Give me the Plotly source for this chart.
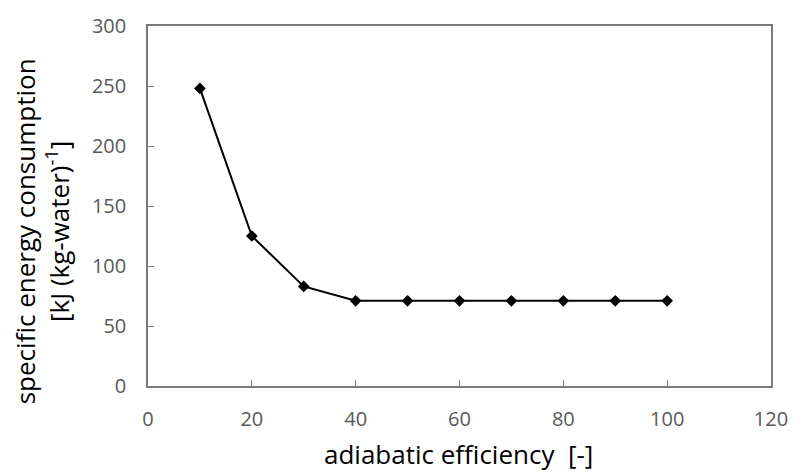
import plotly.graph_objects as go

# adiabatic efficiency [-] and specific energy consumption [kJ (kg-water)^-1]
efficiency = [10, 20, 30, 40, 50, 60, 70, 80, 90, 100]
energy = [248, 125, 83, 71, 71, 71, 71, 71, 71, 71]

x_ticks = [0, 20, 40, 60, 80, 100, 120]
y_ticks = [0, 50, 100, 150, 200, 250, 300]

x_title = "adiabatic efficiency  [-]"
y_title = "specific energy consumption<br>[kJ (kg-water)<sup>-1</sup>]"

FONT = "Open Sans"

fig = go.Figure()
fig.add_trace(go.Scatter(
    x=efficiency, y=energy, mode="lines+markers",
    line=dict(color="black", width=2),
    marker=dict(symbol="diamond", size=9, color="black"),
    showlegend=False,
))

axis_common = dict(
    showline=True, linecolor="#7a7a7a", linewidth=1.5, mirror=True,
    ticks="inside", ticklen=6, tickcolor="#7a7a7a", tickwidth=1,
    showgrid=False, zeroline=False,
    tickfont=dict(family=FONT, size=20, color="#595959"),
)

fig.update_layout(
    width=800, height=475,
    margin=dict(l=148, r=18, t=21, b=89),
    paper_bgcolor="white", plot_bgcolor="white",
    xaxis=dict(range=[0, 120], tickvals=x_ticks, ticklabelstandoff=14,
               **axis_common),
    yaxis=dict(range=[0, 300], tickvals=y_ticks, ticklabelstandoff=16,
               **axis_common),
)

# axis titles placed as annotations
fig.add_annotation(
    text=x_title, xref="paper", yref="paper", x=0.498, y=-0.19,
    xanchor="center", yanchor="middle", showarrow=False,
    font=dict(family=FONT, size=26, color="black"),
)
fig.add_annotation(
    text=y_title, xref="paper", yref="paper", x=-0.170, y=0.43,
    xanchor="center", yanchor="middle", showarrow=False, textangle=-90,
    font=dict(family=FONT, size=26, color="black"),
)

fig.write_html("out.html")
